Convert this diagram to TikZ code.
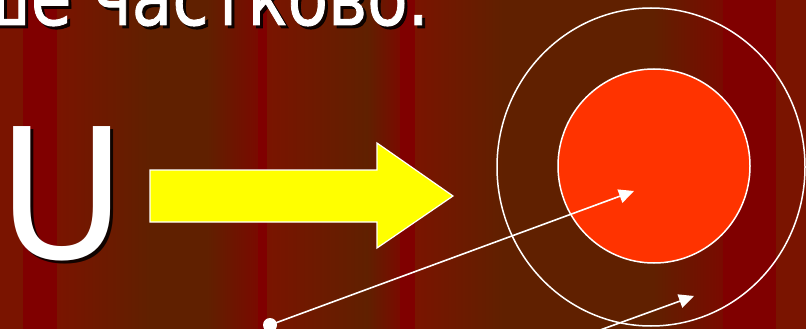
\documentclass[tikz,border=0pt]{standalone}
\usepackage{fontspec}
\newfontfamily\dv{DejaVu Sans}
\newfontfamily\dvb[FakeBold=1.2]{DejaVu Sans}
\usetikzlibrary{arrows.meta}
\definecolor{rd}{HTML}{800000}
\definecolor{br}{HTML}{602000}
\definecolor{lr}{HTML}{7A1400}
\definecolor{mr}{HTML}{7A0A00}
\definecolor{ylw}{HTML}{FFFF00}
\definecolor{core}{HTML}{FF3300}
\tikzset{
  band/.style 2 args={left color=#1, right color=#2, draw=none},
  thinarrow/.style={draw=white, line width=1.6pt, -{Triangle[length=15pt,width=14pt]}},
  ring/.style={draw=white, line width=1.5pt},
  txt/.style={inner sep=0pt, text=white},
  shd/.style={inner sep=0pt, text=black, opacity=0.85},
  titlefont/.style={font=\dvb\fontsize{78}{78}\selectfont, xscale=0.85},
  bigfont/.style={font=\dv\fontsize{181}{181}\selectfont, xscale=0.96}
}
\begin{document}
\begin{tikzpicture}[x=1pt,y=-1pt]
\useasboundingbox (0,0) rectangle (806,329);
\clip (0,0) rectangle (806,329);
% background stripes
\fill[lr] (0,0) rectangle (23.5,329);
\fill[rd] (23,0) rectangle (57.5,329);
\shade[band={lr}{br}] (57,0) rectangle (150.5,329);
\fill[br] (150,0) rectangle (207.5,329);
\shade[band={br}{mr}] (207,0) rectangle (258.5,329);
\fill[rd] (258,0) rectangle (267.5,329);
\shade[band={lr}{br}] (267,0) rectangle (367.5,329);
\shade[band={br}{mr}] (367,0) rectangle (400.5,329);
\fill[rd] (400,0) rectangle (415.5,329);
\shade[band={lr}{br}] (415,0) rectangle (503.5,329);
\fill[br] (503,0) rectangle (653.5,329);
\shade[band={br}{mr}] (653,0) rectangle (723.5,329);
\fill[rd] (723,0) rectangle (776.5,329);
\fill[lr] (776,0) rectangle (806,329);
% title text
\node[shd, titlefont, anchor=base east] (titleshadow) at (432,28) {ше частково.};
\node[txt, titlefont, anchor=base east] (title) at (429,25) {ше частково.};
% big U
\node[shd, bigfont, anchor=base west] (Ushadow) at (1.5,261.5) {U};
\node[txt, bigfont, anchor=base west] (U) at (-2,258) {U};
% yellow block arrow
\draw[fill=ylw, draw=white, line width=1.2pt, line join=miter]
  (150,170) -- (377,170) -- (377,143) -- (453,196) -- (377,248) -- (377,222) -- (150,222) -- cycle;
% rings
\coordinate (ctr) at (651,167);
\coordinate (cin) at (654,166);
\draw[ring] (ctr) ellipse [x radius=154pt, y radius=159pt];
\draw[ring, fill=core] (cin) ellipse [x radius=96pt, y radius=97pt];
% dot and arrows
\node[circle, fill=white, inner sep=0pt, minimum size=14pt] (dot) at (270,325) {};
\coordinate (t1) at (634,191);
\coordinate (s2) at (556,346);
\coordinate (t2) at (694,296);
\draw[thinarrow] (dot.center) -- (t1);
\draw[thinarrow] (s2) -- (t2);
\end{tikzpicture}
\end{document}
